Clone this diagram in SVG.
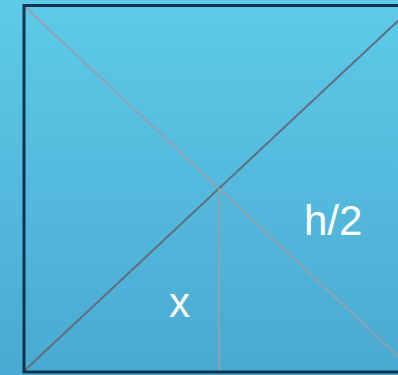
<svg xmlns="http://www.w3.org/2000/svg" width="398" height="375" viewBox="0 0 398 375">
<defs>
<linearGradient id="bg" x1="0" y1="0" x2="0" y2="1">
<stop offset="0" stop-color="#5ecae8"/>
<stop offset="1" stop-color="#4aa9d2"/>
</linearGradient>
<style>
.lbl{font-family:"Liberation Sans",Arial,sans-serif;font-size:42px;fill:#ffffff}
</style>
</defs>
<rect x="0" y="0" width="398" height="375" fill="url(#bg)"/>
<g id="connectors" fill="none">
<line x1="23" y1="5" x2="415" y2="372" stroke="#8ea3b0" stroke-width="2"/>
<line x1="23" y1="372" x2="415" y2="5" stroke="#5f707c" stroke-width="2"/>
<line x1="219" y1="188.5" x2="219" y2="372" stroke="#8ea3b0" stroke-width="2"/>
</g>
<g id="frame">
<rect x="24" y="5.5" width="391" height="366.5" fill="none" stroke="#0e3550" stroke-width="3"/>
</g>
<g id="label-x"><text class="lbl" x="169" y="317">x</text></g>
<g id="label-h2"><text class="lbl" x="304" y="235">h/2</text></g>
</svg>
